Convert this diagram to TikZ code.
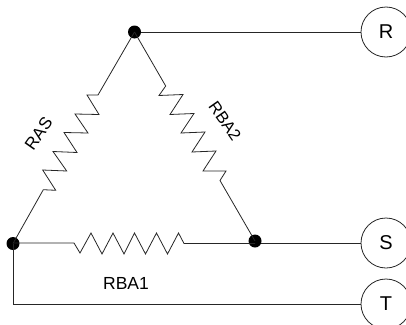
\documentclass[tikz,border=0pt]{standalone}
\usepackage{fontspec}
\setmainfont{Liberation Sans}
\tikzset{
  wire/.style={line width=0.8pt,draw=black!85,line join=miter},
  dot/.style={circle,fill=black,inner sep=0pt,minimum size=13pt},
  terminal/.style={circle,draw=black!85,line width=0.8pt,fill=white,inner sep=0pt,minimum size=50pt,font=\fontsize{20}{22}\selectfont},
  lab/.style={inner sep=0pt,font=\fontsize{#1}{18}\selectfont},
  lab/.default=16
}
\begin{document}
\begin{tikzpicture}[x=1pt,y=-1pt]
\useasboundingbox (0,0) rectangle (406,324);
\clip (0,0) rectangle (406,324);
\coordinate (ml) at (13,304);
\draw[wire] (134.5,32) coordinate (ta) -- (386,32) coordinate (rc);
\draw[wire] (255,243) coordinate (sa) -- (386,243) coordinate (sc);
\node[dot] (top) at (ta) {};
\node[dot] (right) at (255,241) {};
\node[dot] (left) at (13,243.5) {};
\node[terminal] (R) at (rc) {R};
\node[terminal] (S) at (sc) {S};
\node[terminal] (T) at (386,304) {T};
\draw[wire] (left.center) -- (ml) -- (T.west);
\draw[wire] (top.center) -- (98,95) -- (87,95) -- (99,114.5) -- (75,114) -- (88,133) -- (64,132.5) -- (77,152.5) -- (53,151.5) -- (66.7,171) -- (42.7,170) -- (55.7,190.3) -- (43.3,189.7) -- (left.center);
\draw[wire] (top.center) -- (165.7,86) -- (159,95.5) -- (183,94.5) -- (170,114.5) -- (194,113.5) -- (181,133) -- (205,132) -- (192,152) -- (216,151) -- (203,171) -- (226,171) -- (220,180.5) -- (right.center);
\draw[wire] (left.center) ++(0,-0.5) -- (74,243) -- (80,253) -- (91,233) -- (102,254) -- (113,233) -- (124,254) -- (134.5,233) -- (145.5,254) -- (156.5,233) -- (167.5,254) -- (178.5,233) -- (184,243.5) -- (255,243.5);
\node[lab=17.5] (l1) at (126,283) {RBA1};
\node[lab=17,rotate=55] (l2) at (38.5,133.5) {RAS};
\node[lab=16.5,rotate=-55] (l3) at (225,121) {RBA2};
\end{tikzpicture}
\end{document}
